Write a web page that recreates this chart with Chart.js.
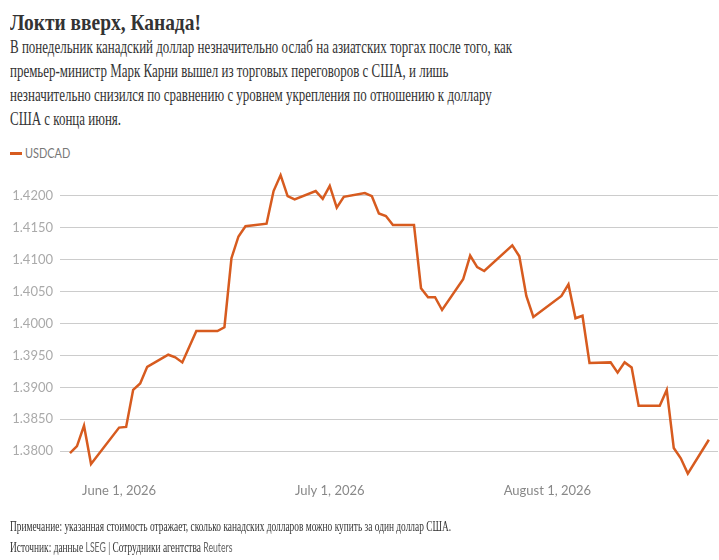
<!DOCTYPE html>
<html>
<head>
<meta charset="utf-8">
<script src="https://cdn.jsdelivr.net/npm/chart.js@4.4.1/dist/chart.umd.min.js"></script>
<style>
  body { margin: 0; background: #fff; width: 719px; height: 560px; position: relative; overflow: hidden; }
  .serif { font-family: "Liberation Serif", "DejaVu Serif", serif; color: #333; white-space: nowrap; position: absolute; left: 10px; transform-origin: 0 0; }
  #title { top: 9px; font-size: 23px; line-height: 28px; font-weight: bold; transform: scaleX(0.845); }
  #sub { top: 35px; font-size: 18px; line-height: 24px; transform: scaleX(0.72); }
  #legend { position: absolute; left: 10px; top: 144px; font-family: Lato, sans-serif; font-size: 14px; color: #777; white-space: nowrap; }
  #legend span.sw { display: inline-block; width: 12px; height: 3px; background: #d75b1f; vertical-align: middle; margin-right: 3px; position: relative; top: -1px; }
  #legend span.lb { display: inline-block; transform: scaleX(0.78); transform-origin: 0 0; }
  #box { position: absolute; left: 0; top: 160px; width: 719px; height: 360px; }
  #note { top: 517px; font-size: 14px; line-height: 20px; transform: scaleX(0.67); }
  #note .sans { font-family: Lato, sans-serif; color: #666; font-size: 13px; }
</style>
</head>
<body>
<div id="title" class="serif">Локти вверх, Канада!</div>
<div id="sub" class="serif">В понедельник канадский доллар незначительно ослаб на азиатских торгах после того, как<br>премьер-министр Марк Карни вышел из торговых переговоров с США, и лишь<br>незначительно снизился по сравнению с уровнем укрепления по отношению к доллару<br>США с конца июня.</div>
<div id="legend"><span class="sw"></span><span class="lb">USDCAD</span></div>
<div id="box"><canvas id="chart"></canvas></div>
<div id="note" class="serif">Примечание: указанная стоимость отражает, сколько канадских долларов можно купить за один доллар США.<br>Источник: данные <span class="sans">LSEG</span> | Сотрудники агентства <span class="sans">Reuters</span></div>

<script>
// USD/CAD daily closes
const dates = [
  '2026-05-25', '2026-05-26', '2026-05-27', '2026-05-28',
  '2026-06-01', '2026-06-02', '2026-06-03', '2026-06-04', '2026-06-05',
  '2026-06-08', '2026-06-09', '2026-06-10', '2026-06-12',
  '2026-06-15', '2026-06-16', '2026-06-17', '2026-06-18', '2026-06-19',
  '2026-06-22', '2026-06-23', '2026-06-24', '2026-06-25', '2026-06-26',
  '2026-06-29', '2026-06-30', '2026-07-01', '2026-07-02', '2026-07-03',
  '2026-07-06', '2026-07-07', '2026-07-08', '2026-07-09', '2026-07-10',
  '2026-07-13', '2026-07-14', '2026-07-15', '2026-07-16', '2026-07-17',
  '2026-07-20', '2026-07-21', '2026-07-22', '2026-07-23',
  '2026-07-27', '2026-07-28', '2026-07-29', '2026-07-30',
  '2026-08-03', '2026-08-04', '2026-08-05', '2026-08-06', '2026-08-07',
  '2026-08-10', '2026-08-11', '2026-08-12', '2026-08-13', '2026-08-14',
  '2026-08-17', '2026-08-18', '2026-08-19', '2026-08-20', '2026-08-21',
  '2026-08-24'
];
const usdcad = [
  1.3797, 1.3808, 1.3840, 1.3780,
  1.3837, 1.3838, 1.3896, 1.3906, 1.3932,
  1.3951, 1.3947, 1.3939, 1.3988,
  1.3988, 1.3994, 1.4102, 1.4136, 1.4152,
  1.4156, 1.4207, 1.4232, 1.4199, 1.4194,
  1.4207, 1.4195, 1.4215, 1.4181, 1.4198,
  1.4204, 1.4199, 1.4172, 1.4168, 1.4154,
  1.4154, 1.4055, 1.4041, 1.4041, 1.4021,
  1.4069, 1.4106, 1.4088, 1.4082,
  1.4122, 1.4105, 1.4043, 1.4010,
  1.4043, 1.4061, 1.4008, 1.4012, 1.3938,
  1.3939, 1.3923, 1.3939, 1.3931, 1.3871,
  1.3871, 1.3896, 1.3805, 1.3789, 1.3765,
  1.3818
];
const xTickDates = ['2026-06-01', '2026-07-01', '2026-08-01'];
const xTickLabels = ['June 1, 2026', 'July 1, 2026', 'August 1, 2026'];
const yTicks = [1.38, 1.385, 1.39, 1.395, 1.40, 1.405, 1.41, 1.415, 1.42];

const startDay = Date.UTC(2026, 4, 25);
const toDay = (s) => (Date.parse(s + 'T00:00:00Z') - startDay) / 86400000;

const points = dates.map((d, i) => ({ x: toDay(d), y: usdcad[i] }));
const tickDays = xTickDates.map(toDay);

new Chart(document.getElementById('chart'), {
  type: 'line',
  data: {
    datasets: [{
      label: 'USDCAD',
      data: points,
      borderColor: '#d75b1f',
      borderWidth: 2.5,
      pointRadius: 0,
      tension: 0,
      fill: false,
    }],
  },
  options: {
    responsive: true,
    maintainAspectRatio: false,
    animation: false,
    layout: { padding: { top: 10, right: 1, left: 0, bottom: 20 } },
    plugins: { legend: { display: false }, tooltip: { enabled: false } },
    scales: {
      x: {
        type: 'linear',
        min: -1.42,
        max: 92.3,
        grid: { display: false, drawTicks: false, tickLength: 0 },
        border: { display: false },
        afterFit: (s) => { s.height = 20; s.paddingLeft = 0; s.paddingRight = 0; },
        afterBuildTicks: (s) => { s.ticks = tickDays.map(v => ({ value: v })); },
        ticks: {
          padding: 3,
          maxRotation: 0,
          autoSkip: false,
          color: '#888',
          font: { family: 'Lato', size: 13 },
          callback: (v) => xTickLabels[tickDays.indexOf(v)],
        },
      },
      y: {
        min: 1.3755,
        max: 1.424,
        grid: { color: '#ccc', lineWidth: 1, drawTicks: false },
        border: { display: false },
        afterFit: (s) => { s.width = 60; s.paddingTop = 0; s.paddingBottom = 0; },
        afterBuildTicks: (s) => { s.ticks = yTicks.map(v => ({ value: v })); },
        ticks: {
          padding: 7,
          color: '#aaa',
          font: { family: 'Lato', size: 13 },
          callback: (v) => v.toFixed(4),
        },
      },
    },
  },
});
</script>
</body>
</html>
